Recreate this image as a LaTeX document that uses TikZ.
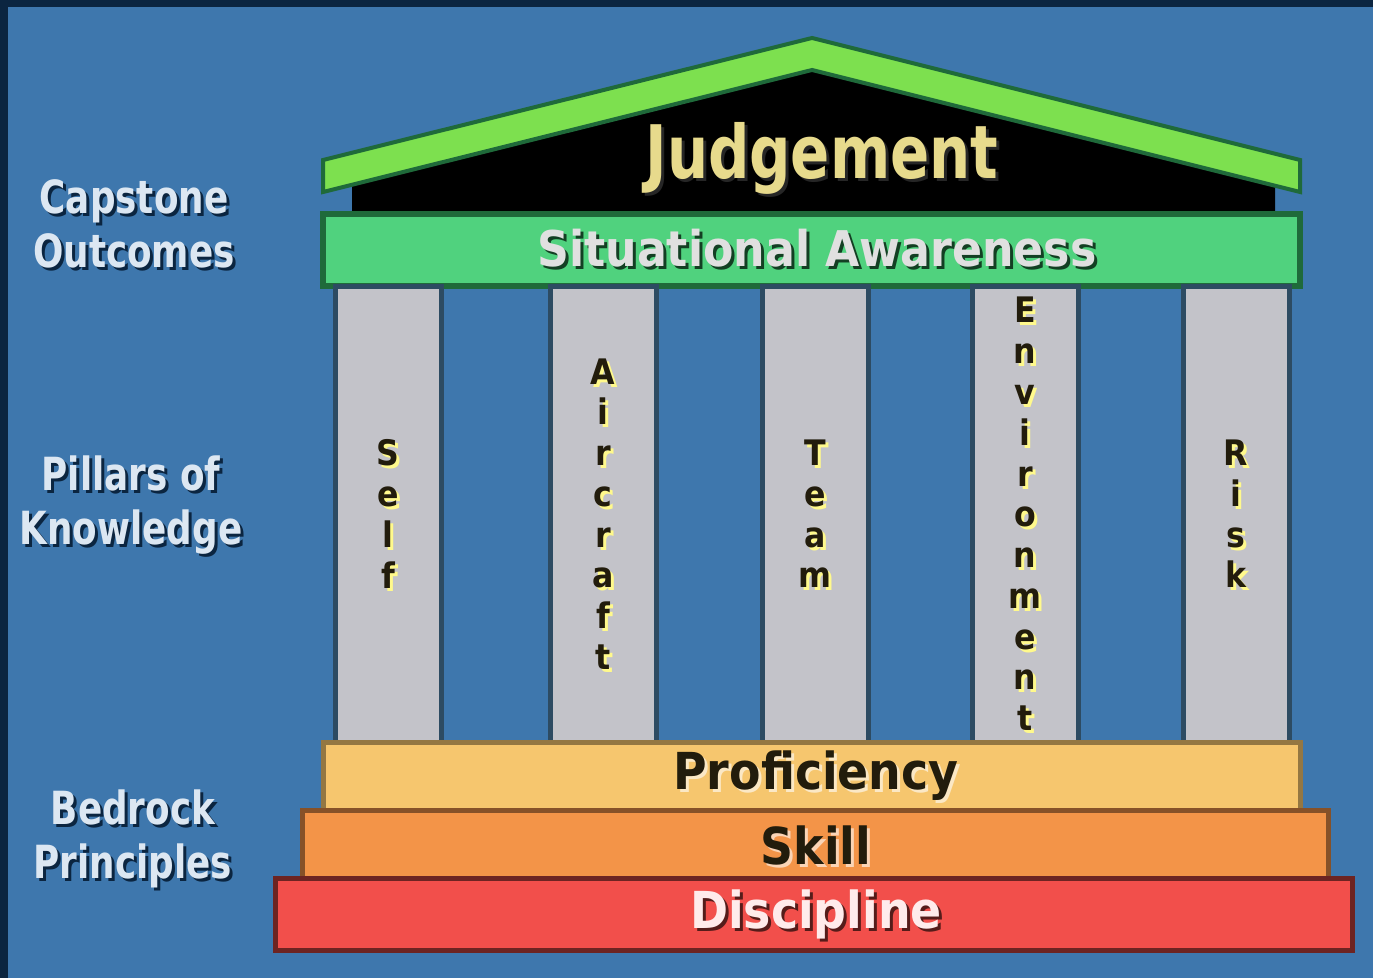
\documentclass[tikz,border=0pt]{standalone}
\usepackage{fontspec}
\setmainfont{DejaVu Sans Condensed}
\newfontfamily\narrowsans[FakeStretch=0.87]{DejaVu Sans Condensed}
\usetikzlibrary{positioning}

\definecolor{sky}{HTML}{3E77AD}
\definecolor{frame}{HTML}{0B2540}
\definecolor{roofgreen}{HTML}{7DE04F}
\definecolor{bandgreen}{HTML}{50D27E}
\definecolor{darkgreen}{HTML}{1F6A3A}
\definecolor{pillargray}{HTML}{C3C3C9}
\definecolor{pillarline}{HTML}{2D4B62}
\definecolor{profcol}{HTML}{F6C66E}
\definecolor{skillcol}{HTML}{F39448}
\definecolor{disccol}{HTML}{F24F4B}
\definecolor{gold}{HTML}{E7DA8C}
\definecolor{lighttext}{HTML}{DCE7F2}
\definecolor{inktext}{HTML}{221C0C}

% text with a drop shadow: name, x,y, style, shadow colour, text
\newcommand{\shadowed}[5]{%
  \node[#3,text=#4] at ([shift={(3,3)}]#2) {#5};
  \node[#3] (#1) at (#2) {#5};}

\begin{document}
\begin{tikzpicture}[x=0.1mm,y=-0.1mm]

    \tikzset{
      pillar/.style={
        fill=pillargray,
        draw=pillarline,
        line width=0.5mm,
      },
      stepband/.style={
        line width=0.5mm,
      },
      sidelabel/.style={
        align=center,
        text=lighttext,
        font=\narrowsans\bfseries\fontsize{13}{15.5}\selectfont,
      },
      letters/.style={
        align=center,
        inner sep=0pt,
        text=inktext,
        font=\bfseries\fontsize{10}{11.6}\selectfont,
      },
    }
    \useasboundingbox (0,0) rectangle (1373,978);
	\fill[color={frame}] (0,0) rectangle (1373,978);
	\fill[color={sky}] (8,7) rectangle (1373,978);
	% roof
	\fill[color={black}] (352,185)--(812,70)--(1275,186)--(1275,213)--(352,213)--cycle;
	\draw[fill={roofgreen},draw={darkgreen},line width=0.4mm] (323,160)--(812,38)--(1300,160)--(1300,192)--(812,70)--(323,192)--cycle;
	\shadowed{judgement}{822,158}{text=gold,font=\narrowsans\bfseries\fontsize{21}{24}\selectfont}{black!85}{Judgement}
	\draw[fill={bandgreen},draw={darkgreen},line width=0.6mm] (323,214) rectangle (1300,286);
	\shadowed{awareness}{817,248}{text=black!12,font=\bfseries\fontsize{14}{17}\selectfont}{darkgreen!60!black}{Situational Awareness}
	% pillars
	\foreach \x/\name/\word in {335/self/{S\\e\\l\\f},550/aircraft/{A\\i\\r\\c\\r\\a\\f\\t},762/team/{T\\e\\a\\m},972/environment/{E\\n\\v\\i\\r\\o\\n\\m\\e\\n\\t},1183/risk/{R\\i\\s\\k}}{
		\draw[pillar] (\x,286) rectangle ++(106,456);
		\shadowed{\name}{\x+53,514}{letters}{yellow!45}{\word}
	}
	% steps
	\draw[stepband,fill={profcol},draw={profcol!60!black}] (323,742) rectangle (1300,810);
	\shadowed{proficiency}{816,776}{text=inktext,font=\bfseries\fontsize{14.5}{17}\selectfont}{profcol!40!white}{Proficiency}
	\draw[stepband,fill={skillcol},draw={skillcol!55!black}] (302,810) rectangle (1328,878);
	\shadowed{skill}{816,845}{text=inktext,font=\bfseries\fontsize{14.5}{17}\selectfont}{skillcol!40!white}{Skill}
	\draw[stepband,fill={disccol},draw={disccol!45!black}] (275,878) rectangle (1352,950);
	\shadowed{discipline}{816,914}{text=white!92!red,font=\bfseries\fontsize{14.5}{17}\selectfont}{disccol!35!black}{Discipline}
	% side labels
	\shadowed{capstone}{134,224}{sidelabel}{frame}{Capstone\\Outcomes}
	\shadowed{pillars}{131,505}{sidelabel}{frame}{Pillars of\\Knowledge}
	\shadowed{bedrock}{133,839}{sidelabel}{frame}{Bedrock\\Principles}

\end{tikzpicture}
\end{document}
